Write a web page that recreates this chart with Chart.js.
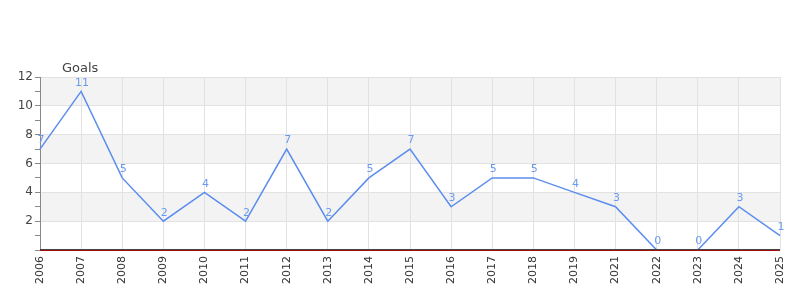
<!DOCTYPE html>
<html>
<head>
<meta charset="utf-8">
<script src="https://cdn.jsdelivr.net/npm/chart.js@4/dist/chart.umd.min.js"></script>
<style>
  html, body { margin:0; padding:0; background:#fff; }
  #wrap { width:800px; height:300px; }
</style>
</head>
<body>
<div id="wrap"><canvas id="goalsChart" width="800" height="300"></canvas></div>
<script>
const years = ["2006","2007","2008","2009","2010","2011","2012","2013","2014","2015",
               "2016","2017","2018","2019","2021","2022","2023","2024","2025"];
const goals = [7, 11, 5, 2, 4, 2, 7, 2, 5, 7, 3, 5, 5, 4, 3, 0, 0, 3, 1];
const yMax = 12;
const seriesTitle = "Goals";

/* alternating grey bands behind the plot */
const bands = {
  id: "bands",
  beforeDraw(chart) {
    const { ctx, chartArea: a, scales: { y } } = chart;
    ctx.save();
    ctx.fillStyle = "#f3f3f3";
    for (let v = 2; v < yMax; v += 4) {
      const top = y.getPixelForValue(v + 2);
      const bot = y.getPixelForValue(v);
      ctx.fillRect(a.left, top, a.right - a.left, bot - top);
    }
    ctx.restore();
  }
};

/* value labels above each point, axis title, base line */
const labels = {
  id: "labels",
  afterDatasetsDraw(chart) {
    const { ctx, chartArea: a, scales: { y } } = chart;
    const meta = chart.getDatasetMeta(0);
    ctx.save();
    // base line at zero: dark edges with a red core
    const y0 = Math.round(y.getPixelForValue(0));
    ctx.fillStyle = "#444";
    ctx.fillRect(a.left, y0 - 1, a.right - a.left, 2);
    ctx.fillStyle = "#a01010";
    ctx.fillRect(a.left, y0, a.right - a.left, 1);

    ctx.font = "11px 'DejaVu Sans', sans-serif";
    ctx.fillStyle = "#6a9bf0";
    ctx.textAlign = "center";
    ctx.textBaseline = "bottom";
    meta.data.forEach((pt, i) => {
      ctx.fillText(String(goals[i]), pt.x + 1, pt.y - 3);
    });
    ctx.font = "13px 'DejaVu Sans', sans-serif";
    ctx.fillStyle = "#444";
    ctx.textAlign = "left";
    ctx.textBaseline = "alphabetic";
    ctx.fillText(seriesTitle, 62, 72);
    ctx.restore();
  }
};

new Chart(document.getElementById("goalsChart"), {
  type: "line",
  data: {
    labels: years,
    datasets: [{
      data: goals,
      borderColor: "#5b8def",
      borderWidth: 1.5,
      tension: 0,
      pointRadius: 0,
      fill: false
    }]
  },
  options: {
    responsive: false,
    animation: false,
    layout: { padding: { top: 77, right: 20, left: 0, bottom: 0 } },
    plugins: { legend: { display: false }, tooltip: { enabled: false } },
    scales: {
      x: {
        offset: false,
        grid: { color: "#e2e2e2", drawTicks: false },
        border: { display: false },
        ticks: {
          minRotation: 90, maxRotation: 90, padding: 6,
          color: "#333",
          font: { size: 11, family: "'DejaVu Sans', sans-serif" }
        },
        afterFit(s) { s.height = 50; }
      },
      y: {
        min: 0, max: yMax,
        grid: {
          color: c => (c.tick && c.tick.value % 2 === 0 && c.tick.value !== 0) ? "#e2e2e2" : "rgba(0,0,0,0)",
          tickColor: "#888",
          tickLength: 5
        },
        border: { color: "#888" },
        ticks: {
          stepSize: 1,
          autoSkip: false,
          padding: 2,
          color: "#444",
          font: { size: 12, family: "'DejaVu Sans', sans-serif" },
          callback: v => (v % 2 === 0 && v !== 0) ? v : ""
        },
        afterFit(s) { s.width = 40; }
      }
    }
  },
  plugins: [bands, labels]
});
</script>
</body>
</html>
